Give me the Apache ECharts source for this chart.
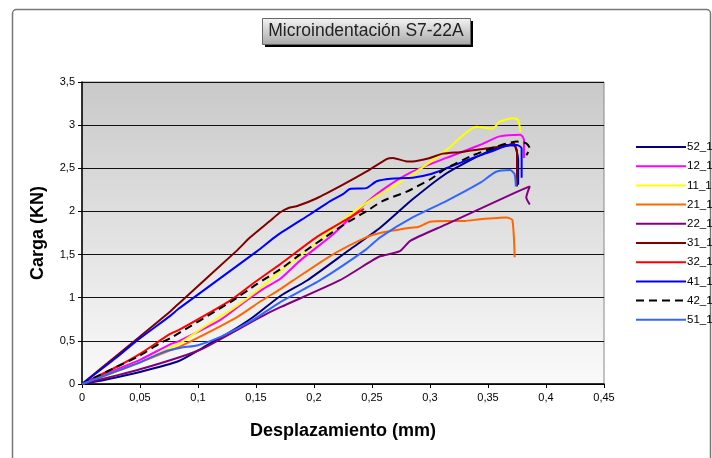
<!DOCTYPE html>
<html>
<head>
<meta charset="utf-8">
<script src="https://cdn.jsdelivr.net/npm/echarts@6/dist/echarts.min.js"></script>
<style>
html, body { margin: 0; padding: 0; background: #fff; }
#chart { width: 712px; height: 458px; }
</style>
</head>
<body>
<div id="chart"></div>
<script>
// curves: [desplazamiento mm, carga KN]
const s52_1 = [[0,0],[0.02,0.05],[0.05,0.14],[0.084,0.27],[0.104,0.42],[0.125,0.58],[0.147,0.77],[0.171,1.02],[0.194,1.2],[0.23,1.55],[0.257,1.81],[0.285,2.14],[0.314,2.44],[0.343,2.65],[0.366,2.77],[0.373,2.76],[0.376,2.6],[0.376,2.31]]
const s12_1 = [[0,0],[0.03,0.17],[0.05,0.28],[0.076,0.46],[0.084,0.5],[0.119,0.74],[0.142,0.97],[0.156,1.1],[0.171,1.22],[0.188,1.43],[0.216,1.73],[0.24,2.04],[0.259,2.25],[0.283,2.45],[0.314,2.62],[0.343,2.77],[0.36,2.87],[0.378,2.89],[0.381,2.83],[0.381,2.62]]
const s11_1 = [[0,0],[0.03,0.14],[0.05,0.25],[0.076,0.42],[0.084,0.47],[0.104,0.65],[0.133,0.9],[0.151,1.08],[0.173,1.33],[0.197,1.58],[0.216,1.8],[0.24,2.05],[0.257,2.2],[0.285,2.43],[0.314,2.71],[0.34,2.98],[0.354,2.96],[0.36,3.04],[0.372,3.08],[0.376,3.06],[0.378,2.92]]
const s21_1 = [[0,0],[0.03,0.15],[0.05,0.25],[0.076,0.39],[0.084,0.43],[0.133,0.77],[0.153,0.95],[0.171,1.1],[0.182,1.2],[0.216,1.5],[0.245,1.7],[0.257,1.75],[0.283,1.81],[0.29,1.82],[0.3,1.88],[0.314,1.89],[0.33,1.89],[0.343,1.91],[0.366,1.93],[0.371,1.9],[0.373,1.47]]
const s22_1 = [[0,0],[0.03,0.1],[0.05,0.17],[0.084,0.31],[0.104,0.41],[0.153,0.77],[0.171,0.89],[0.222,1.2],[0.25,1.43],[0.257,1.48],[0.274,1.54],[0.283,1.66],[0.314,1.85],[0.343,2.03],[0.372,2.21],[0.386,2.29],[0.383,2.16],[0.386,2.08]]
const s31_1 = [[0,0],[0.03,0.33],[0.05,0.55],[0.076,0.84],[0.084,0.94],[0.133,1.54],[0.145,1.7],[0.162,1.89],[0.171,1.99],[0.178,2.04],[0.185,2.06],[0.202,2.15],[0.225,2.31],[0.245,2.46],[0.263,2.61],[0.268,2.62],[0.28,2.58],[0.285,2.58],[0.3,2.62],[0.311,2.67],[0.328,2.69],[0.343,2.72],[0.366,2.76],[0.372,2.79],[0.375,2.69],[0.375,2.29]]
const s32_1 = [[0,0],[0.03,0.2],[0.05,0.35],[0.076,0.58],[0.084,0.63],[0.128,0.97],[0.148,1.17],[0.171,1.39],[0.202,1.7],[0.231,1.93],[0.243,2.03]]
const s41_1 = [[0,0],[0.03,0.31],[0.047,0.5],[0.076,0.79],[0.084,0.88],[0.151,1.54],[0.168,1.72],[0.197,1.97],[0.214,2.12],[0.225,2.2],[0.231,2.26],[0.245,2.27],[0.254,2.35],[0.266,2.38],[0.285,2.39],[0.3,2.43],[0.314,2.5],[0.337,2.62],[0.352,2.69],[0.366,2.76],[0.375,2.77],[0.379,2.73],[0.379,2.39]]
const s42_1 = [[0,0],[0.03,0.2],[0.05,0.33],[0.067,0.47],[0.076,0.53],[0.128,0.95],[0.151,1.16],[0.171,1.33],[0.188,1.5],[0.216,1.76],[0.231,1.89],[0.245,2.0],[0.259,2.12],[0.28,2.23],[0.3,2.37],[0.314,2.5],[0.337,2.65],[0.357,2.75],[0.375,2.81],[0.383,2.79],[0.386,2.73],[0.383,2.65]]
const s51_1 = [[0,0],[0.03,0.15],[0.05,0.25],[0.07,0.37],[0.085,0.42],[0.1,0.45],[0.12,0.55],[0.147,0.74],[0.171,0.95],[0.205,1.2],[0.245,1.56],[0.257,1.7],[0.285,1.93],[0.314,2.12],[0.343,2.33],[0.357,2.46],[0.369,2.48],[0.373,2.43],[0.374,2.29]]

const names = ['52_1', '12_1', '11_1', '21_1', '22_1', '31_1', '32_1', '41_1', '42_1', '51_1']
const curves = [s52_1, s12_1, s11_1, s21_1, s22_1, s31_1, s32_1, s41_1, s42_1, s51_1]
const colors = ['#000080', '#ff00ff', '#ffff00', '#ff6600', '#800080', '#800000', '#ff0000', '#0000ff', '#000000', '#3366ff']
const yTicks = ['0', '0,5', '1', '1,5', '2', '2,5', '3', '3,5']

const font = 'Liberation Sans, Arial, sans-serif'
const comma = v => String(+v.toFixed(2)).replace('.', ',')

let chart = echarts.init(document.getElementById('chart'))
chart.setOption({
    animation: false,
    textStyle: { fontFamily: font },
    graphic: [
        // outer frame
        { type: 'rect', left: 10, top: 7, shape: { width: 698, height: 470, r: 4 },
          style: { fill: 'none', stroke: '#777', lineWidth: 1.5 } },
        // title box with shadow
        { type: 'rect', left: 265, top: 21, shape: { width: 208, height: 26 },
          style: { fill: '#000' } },
        { type: 'rect', left: 262, top: 18, shape: { width: 208, height: 26 },
          style: {
              fill: { type: 'linear', x: 0, y: 0, x2: 0, y2: 1,
                  colorStops: [{ offset: 0, color: '#f4f4f4' }, { offset: 1, color: '#a8a8a8' }] },
              stroke: '#666', lineWidth: 1
          } },
        { type: 'text', x: 366, y: 31,
          style: { text: 'Microindentación S7-22A', font: '17.5px ' + font, fill: '#222',
                   textAlign: 'center', textVerticalAlign: 'middle' } }
    ],
    grid: {
        left: 82, right: 108, top: 82, bottom: 74,
        show: true,
        borderColor: '#888',
        borderWidth: 1,
        backgroundColor: { type: 'linear', x: 0, y: 0, x2: 0, y2: 1,
            colorStops: [{ offset: 0, color: '#c9c9c9' }, { offset: 1, color: '#fafafa' }] }
    },
    legend: {
        orient: 'vertical',
        left: 630, top: 136,
        itemWidth: 50, itemHeight: 14, itemGap: 7.2,
        data: names,
        itemStyle: { color: 'rgba(0,0,0,0)', borderWidth: 0 },
        textStyle: { fontSize: 11.5, color: '#000', padding: [0, 0, 0, -4] }
    },
    xAxis: {
        type: 'value', min: 0, max: 0.45, interval: 0.05,
        name: 'Desplazamiento (mm)', nameLocation: 'middle', nameGap: 38,
        nameTextStyle: { fontSize: 18, fontWeight: 'bold', color: '#000' },
        axisLine: { onZero: false, lineStyle: { color: '#000', width: 1.5 } },
        axisTick: { show: true, length: 4, lineStyle: { color: '#000' } },
        axisLabel: { fontSize: 11, color: '#000', margin: 8, formatter: comma },
        splitLine: { show: false }
    },
    yAxis: {
        type: 'value', min: 0, max: 3.5, interval: 0.5,
        name: 'Carga (KN)', nameLocation: 'middle', nameGap: 35,
        nameTextStyle: { fontSize: 18, fontWeight: 'bold', color: '#000' },
        axisLine: { show: true, lineStyle: { color: '#000', width: 1.5 } },
        axisTick: { show: true, length: 4, lineStyle: { color: '#000' } },
        axisLabel: { fontSize: 11, color: '#000', margin: 7, formatter: (v, i) => yTicks[i] },
        splitLine: { lineStyle: { color: '#111', width: 1 } }
    },
    series: curves.map((d, i) => ({
        name: names[i],
        type: 'line',
        data: d,
        symbol: 'none',
        smooth: 0.2,
        color: colors[i],
        lineStyle: { color: colors[i], width: 2, type: names[i] == '42_1' ? [8, 5] : 'solid' }
    }))
})
</script>
</body>
</html>
